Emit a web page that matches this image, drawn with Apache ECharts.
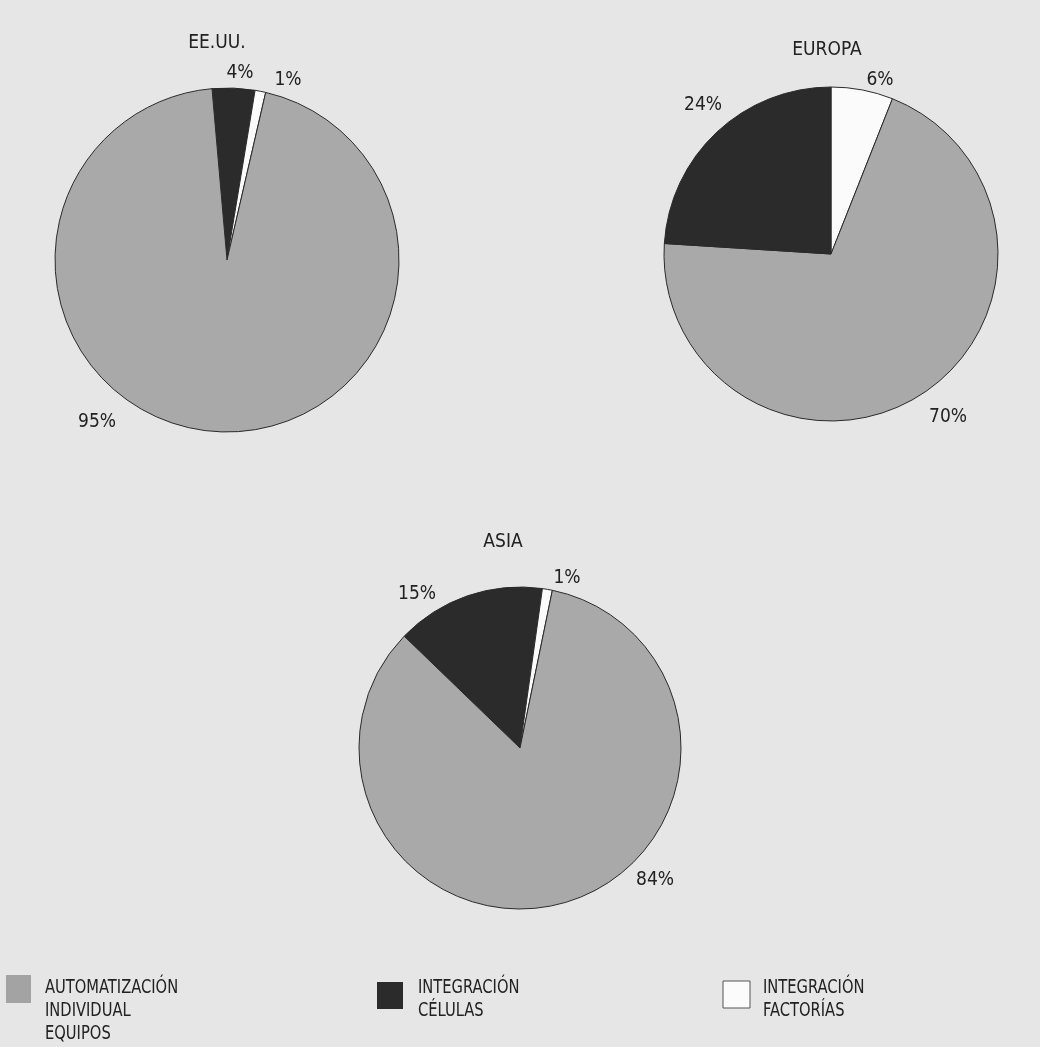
<!DOCTYPE html>
<html>
<head>
<meta charset="utf-8">
<script src="https://cdn.jsdelivr.net/npm/echarts@6/dist/echarts.min.js"></script>
<style>
html,body{margin:0;padding:0;background:#e6e6e6;}
#chart{width:1040px;height:1047px;}
</style>
</head>
<body>
<div id="chart"></div>
<script>
// Data
const categories = ['AUTOMATIZACIÓN\nINDIVIDUAL\nEQUIPOS', 'INTEGRACIÓN\nCÉLULAS', 'INTEGRACIÓN\nFACTORÍAS'];
const regions = ['EE.UU.', 'EUROPA', 'ASIA'];
// values per region, in order [individual, células, factorías]
const usaValues = [95, 4, 1];
const europeValues = [70, 24, 6];
const asiaValues = [84, 15, 1];

// Styling / layout (not data)
const colors = ['#a9a9a9', '#2b2b2b', '#fbfbfb'];
const FONT = '"Liberation Sans Narrow", "DejaVu Sans Condensed", "Roboto", sans-serif';
const pieLayout = [
  {center: [227, 260], radius: 172, startAngle: 95, order: [1, 2, 0],
   title: [217, 43], labels: {0: [97, 422], 1: [240, 73], 2: [288, 80]}},
  {center: [831, 254], radius: 167, startAngle: 90, order: [2, 0, 1],
   title: [827, 50], labels: {0: [948, 417], 1: [703, 105], 2: [880, 80]}},
  {center: [520, 748], radius: 161, startAngle: 136, order: [1, 2, 0],
   title: [503, 542], labels: {0: [655, 880], 1: [417, 594], 2: [567, 578]}}
];
const allValues = [usaValues, europeValues, asiaValues];

const series = pieLayout.map((p, si) => ({
  type: 'pie',
  center: p.center,
  radius: p.radius,
  startAngle: p.startAngle,
  clockwise: true,
  silent: true,
  animation: false,
  avoidLabelOverlap: false,
  itemStyle: {borderColor: '#2a2a2a', borderWidth: 1},
  label: {
    show: true, position: 'outside', formatter: '{c}%',
    color: '#222', fontFamily: FONT, fontSize: 19
  },
  labelLine: {show: false},
  labelLayout: function (params) {
    const catIdx = p.order[params.dataIndex];
    const pos = p.labels[catIdx];
    return {x: pos[0], y: pos[1], align: 'center', verticalAlign: 'middle'};
  },
  data: p.order.map(ci => ({
    name: categories[ci],
    value: allValues[si][ci],
    itemStyle: {color: colors[ci]}
  }))
}));

const graphics = [];
pieLayout.forEach((p, i) => {
  graphics.push({
    type: 'text', x: p.title[0], y: p.title[1],
    style: {text: regions[i], font: '19px ' + FONT, fill: '#222', textAlign: 'center', textVerticalAlign: 'middle'}
  });
});
// Legend (swatch + multi-line text)
const legendLayout = [
  {rect: [6, 975, 25, 28], text: [45, 988]},
  {rect: [377, 982, 26, 27], text: [418, 988]},
  {rect: [723, 981, 27, 27], text: [763, 988]}
];
legendLayout.forEach((l, i) => {
  graphics.push({
    type: 'rect',
    shape: {x: l.rect[0], y: l.rect[1], width: l.rect[2], height: l.rect[3]},
    style: {fill: i === 0 ? '#a3a3a3' : colors[i], stroke: i === 2 ? '#555' : null, lineWidth: 1}
  });
  graphics.push({
    type: 'text', x: l.text[0], y: l.text[1] - 11, scaleX: 0.86,
    style: {text: categories[i], font: '19px ' + FONT, fill: '#222', lineHeight: 23, textAlign: 'left', textVerticalAlign: 'top'}
  });
});

const chart = echarts.init(document.getElementById('chart'), null, {renderer: 'canvas'});
chart.setOption({
  backgroundColor: '#e6e6e6',
  animation: false,
  series: series,
  graphic: graphics
});
</script>
</body>
</html>
